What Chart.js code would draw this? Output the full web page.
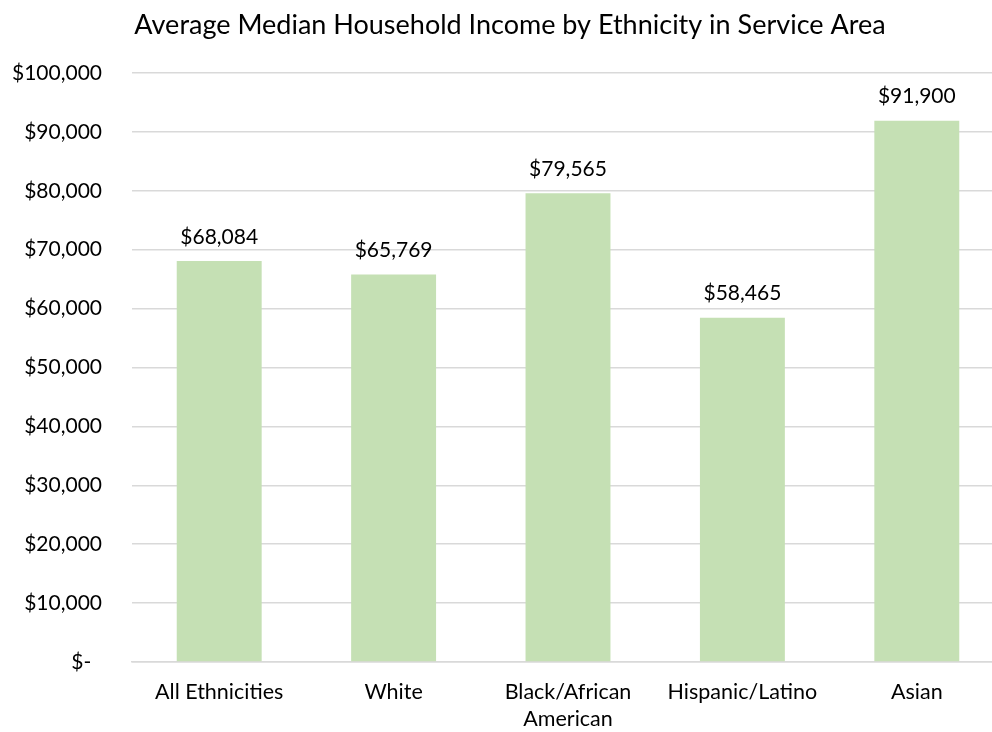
<!DOCTYPE html>
<html>
<head>
    <title>Average Median Household Income by Ethnicity</title>
    <script src="https://cdn.jsdelivr.net/npm/chart.js"></script>
    <style>
        html, body {
            margin: 0;
            padding: 0;
            overflow: hidden;
            background: #ffffff;
        }
    </style>
</head>
<body>
    <canvas id="incomeChart" width="1020" height="732"></canvas>

    <script>
        const categories = ['All Ethnicities', 'White', ['Black/African', 'American'], 'Hispanic/Latino', 'Asian'];
        const incomes = [68084, 65769, 79565, 58465, 91900];
        const chartTitle = 'Average Median Household Income by Ethnicity in Service Area';

        const FONT = 'Lato, "Open Sans", sans-serif';

        function money(v) {
            return '$' + v.toLocaleString('en-US');
        }

        // title drawn by hand so the plot area can sit where it needs to
        const titlePlugin = {
            id: 'titleText',
            afterDraw(chart) {
                const ctx = chart.ctx;
                ctx.save();
                ctx.font = '27px ' + FONT;
                ctx.fillStyle = '#000000';
                ctx.textAlign = 'center';
                ctx.textBaseline = 'middle';
                ctx.fillText(chartTitle, 510, 25);
                ctx.restore();
            }
        };

        // value labels above each bar
        const valueLabels = {
            id: 'valueLabels',
            afterDatasetsDraw(chart) {
                const ctx = chart.ctx;
                const meta = chart.getDatasetMeta(0);
                ctx.save();
                ctx.font = '21px ' + FONT;
                ctx.fillStyle = '#000000';
                ctx.textAlign = 'center';
                ctx.textBaseline = 'middle';
                meta.data.forEach((bar, i) => {
                    ctx.fillText(money(incomes[i]), bar.x, bar.y - 24);
                });
                ctx.restore();
            }
        };

        new Chart(document.getElementById('incomeChart').getContext('2d'), {
            type: 'bar',
            data: {
                labels: categories,
                datasets: [{
                    data: incomes,
                    backgroundColor: '#c5e0b4',
                    borderWidth: 0,
                    categoryPercentage: 1.0,
                    barPercentage: 0.487
                }]
            },
            options: {
                responsive: false,
                animation: false,
                layout: { padding: { top: 73, right: 16, left: 0, bottom: 0 } },
                plugins: {
                    legend: { display: false },
                    title: { display: false },
                    tooltip: { enabled: false }
                },
                scales: {
                    x: {
                        grid: { display: false, drawTicks: false },
                        border: { color: '#d9d9d9', width: 1.5 },
                        ticks: {
                            color: '#000000',
                            font: { family: FONT, size: 21.5, lineHeight: 1.24 },
                            padding: 17,
                            maxRotation: 0,
                            autoSkip: false
                        },
                        afterFit(scale) { scale.height = 70; }
                    },
                    y: {
                        min: 0,
                        max: 100000,
                        grid: { color: '#d9d9d9', lineWidth: 1.5, drawTicks: false },
                        border: { display: false },
                        ticks: {
                            stepSize: 10000,
                            color: '#000000',
                            font: { family: FONT, size: 21 },
                            padding: 30,
                            callback: v => v === 0 ? '$-  ' : money(v)
                        },
                        afterFit(scale) { scale.width = 132; }
                    }
                }
            },
            plugins: [titlePlugin, valueLabels]
        });
    </script>
</body>
</html>
